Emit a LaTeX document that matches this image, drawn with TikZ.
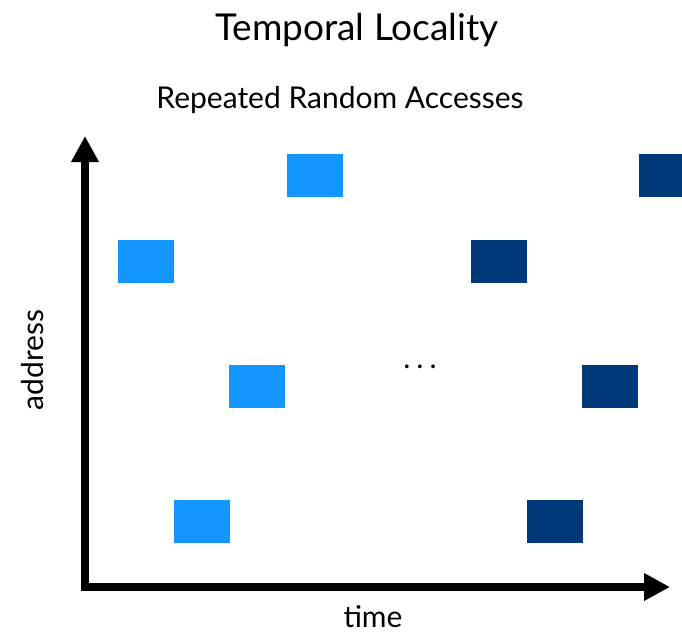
\documentclass[tikz,border=0pt]{standalone}
\usepackage{fontspec}
\setmainfont{Lato}
\usetikzlibrary{arrows.meta,positioning}
\definecolor{firstblue}{RGB}{20,150,255}
\definecolor{repeatblue}{RGB}{0,57,122}
\newdimen\hdim
\newdimen\wdim
\hdim=43pt
\wdim=56pt
\tikzstyle{access}=[
  rectangle,
  draw=none,
  inner sep=0pt,
  outer sep=0pt,
  minimum height=\hdim,
  minimum width=\wdim,
]
\tikzstyle{first}=[access, fill=firstblue]
\tikzstyle{again}=[access, fill=repeatblue]
\tikzstyle{axis}=[
  ->,
  line width=8pt,
  line join=miter,
]
\tikzstyle{heading}=[anchor=base, font={\fontsize{37}{44}\selectfont}]
\tikzstyle{subheading}=[anchor=base, font={\fontsize{30}{36}\selectfont}]
\tikzstyle{axislabel}=[anchor=base, font={\fontsize{30}{36}\selectfont}]
\tikzset{
  >={Triangle[length=26pt,width=26pt]},
}
\begin{document}
\begin{tikzpicture}[x=1pt,y=-1pt]
      \useasboundingbox (0,0) rectangle (682,632);
      \node (title) [heading] at (357,40) {Temporal Locality};
      \node (subtitle) [subheading] at (340,108) {Repeated Random Accesses};
      %%
      \coordinate (origin) at (85,587);
      \coordinate (ytip) at (85,136);
      \coordinate (xtip) at (670,587);
      \draw [axis, <->] (ytip) -- (origin) -- (xtip);
      \node (address) [axislabel, rotate=90] at (43,360) {address};
      \node (time) [axislabel] at (373,627) {time};
      %%
      \node (a1) [first] at (314.5,175) {};
      \node (a2) [first] at (146,261.5) {};
      \node (a3) [first] at (257,386.5) {};
      \node (a4) [first] at (202,521.5) {};
      \node (dots) [axislabel] at (420,368) {.\hspace{6pt}.\hspace{6pt}.};
      \node (r1) [again] at (667,175) {};
      \node (r2) [again] at (499,261.5) {};
      \node (r3) [again] at (610,386.5) {};
      \node (r4) [again] at (555,521.5) {};
    \end{tikzpicture}
\end{document}
